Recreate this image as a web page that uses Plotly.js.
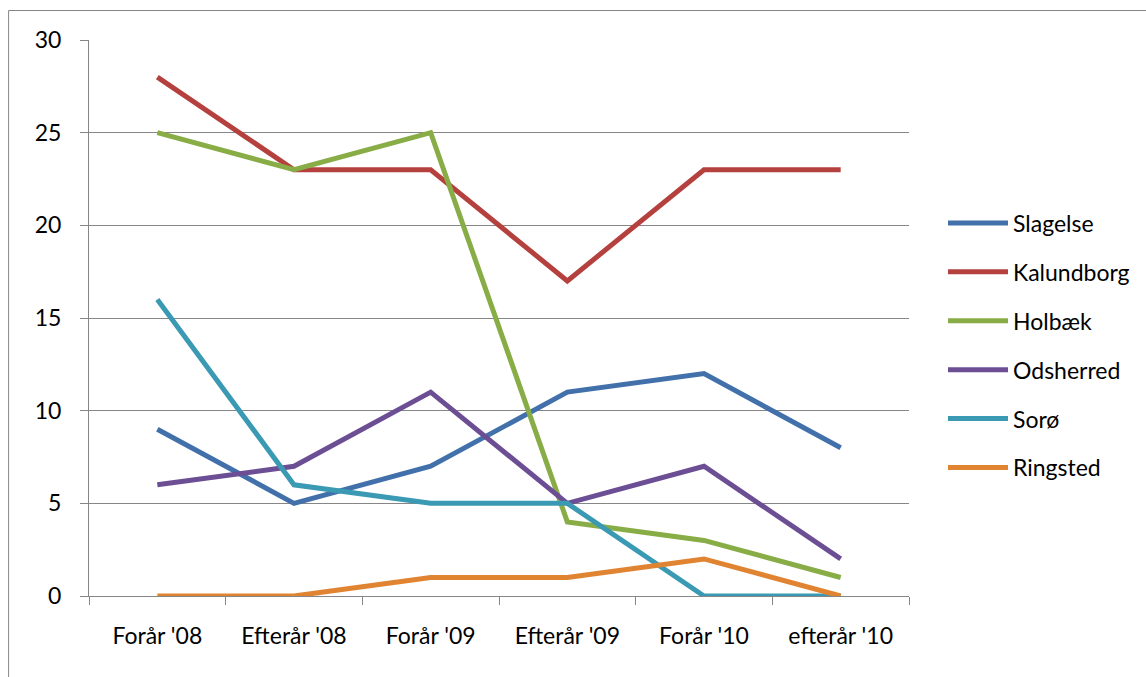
<!DOCTYPE html>
<html>
<head>
<meta charset="utf-8">
<script src="https://cdn.plot.ly/plotly-3.0.1.min.js"></script>
<style>html,body{margin:0;padding:0;background:#fff;}#chart{width:1146px;height:677px;}</style>
</head>
<body>
<div id="chart"></div>
<script>
const categories = ["Forår '08", "Efterår '08", "Forår '09", "Efterår '09", "Forår '10", "efterår '10"];
const seriesNames = ["Slagelse", "Kalundborg", "Holbæk", "Odsherred", "Sorø", "Ringsted"];
const slagelse   = [9, 5, 7, 11, 12, 8];
const kalundborg = [28, 23, 23, 17, 23, 23];
const holbaek    = [25, 23, 25, 4, 3, 1];
const odsherred  = [6, 7, 11, 5, 7, 2];
const soro       = [16, 6, 5, 5, 0, 0];
const ringsted   = [0, 0, 1, 1, 2, 0];
const seriesValues = [slagelse, kalundborg, holbaek, odsherred, soro, ringsted];
const colors = ["#4270AA", "#B5413E", "#88AC46", "#6C4E94", "#3B9AB3", "#E08432"];

const FONT = "Lato, 'Liberation Sans', sans-serif";
const FS = 23;
const grey = "#868686";

const traces = seriesNames.map((n, i) => ({
  type: "scatter",
  mode: "lines",
  name: n,
  legendgroup: n,
  x: categories,
  y: seriesValues[i],
  line: {color: colors[i], width: 5},
  hoverinfo: "x+y+name"
}));

const W = 1146, H = 677, L = 89, R = 236, T = 40, B = 81;
const pw = W - L - R, ph = H - T - B;
const px = v => (v - L) / pw;
const py = v => (H - B - v) / ph;

const layout = {
  width: W, height: H,
  margin: {l: L, r: R, t: T, b: B, pad: 0},
  paper_bgcolor: "#fff",
  plot_bgcolor: "#fff",
  font: {family: FONT, size: FS, color: "#000"},
  showlegend: true,
  xaxis: {
    type: "category",
    range: [-0.5, 5.5],
    tickson: "boundaries",
    ticks: "outside",
    ticklen: 8,
    tickcolor: grey,
    tickwidth: 1,
    showline: true,
    linecolor: grey,
    linewidth: 1,
    showgrid: false,
    zeroline: false,
    ticklabelstandoff: 19,
    tickfont: {family: FONT, size: FS, color: "#000"}
  },
  yaxis: {
    range: [0, 30],
    dtick: 5,
    tick0: 0,
    ticks: "outside",
    ticklen: 8,
    tickcolor: grey,
    tickwidth: 1,
    showline: true,
    linecolor: grey,
    linewidth: 1,
    showgrid: true,
    gridcolor: grey,
    gridwidth: 1,
    zeroline: false,
    ticklabelstandoff: 14,
    tickfont: {family: FONT, size: FS, color: "#000"}
  },
  legend: {
    x: px(943), xanchor: "left",
    y: py(345.5), yanchor: "middle",
    xref: "paper", yref: "paper",
    bgcolor: "rgba(0,0,0,0)",
    borderwidth: 0,
    itemwidth: 60,
    tracegroupgap: 16,
    font: {family: FONT, size: FS, color: "#000"}
  },
  shapes: [{
    type: "rect", xref: "paper", yref: "paper",
    x0: px(8.5), x1: px(1400), y0: py(900), y1: py(10.5),
    line: {color: grey, width: 1}, fillcolor: "rgba(0,0,0,0)", layer: "below"
  }]
};

Plotly.newPlot("chart", traces, layout, {displayModeBar: false, staticPlot: true});
</script>
</body>
</html>
